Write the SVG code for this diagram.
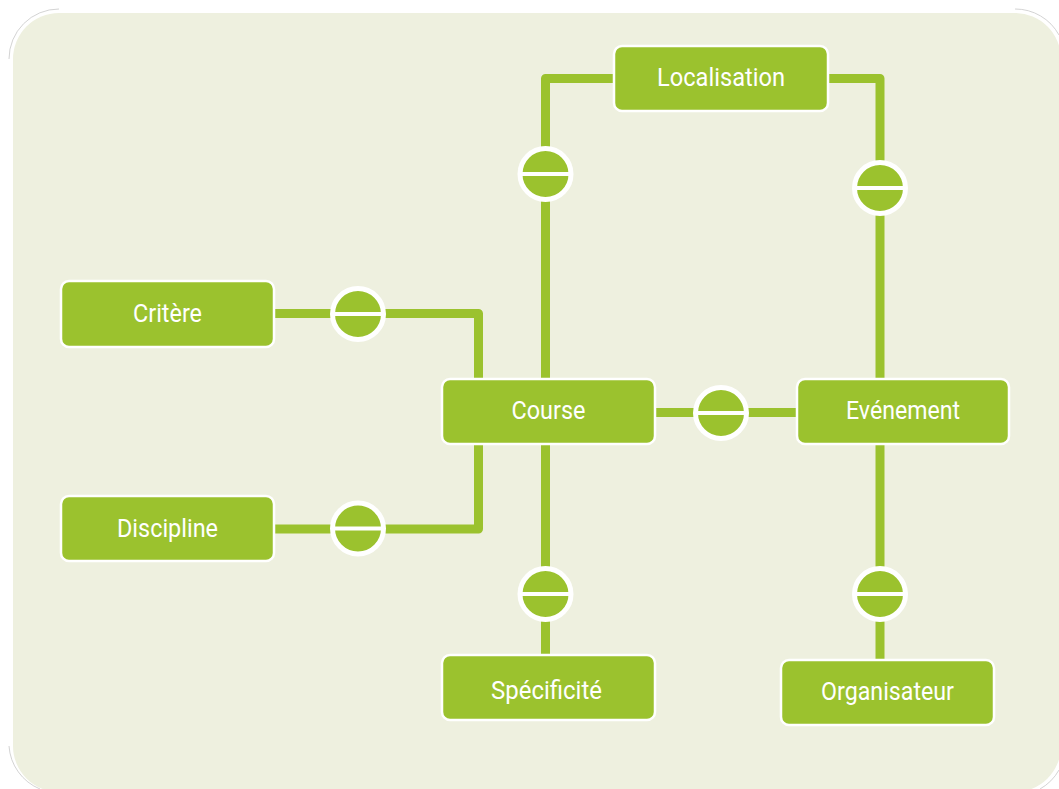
<svg xmlns="http://www.w3.org/2000/svg" width="1059" height="789" viewBox="0 0 1059 789">
<style>
.bg{fill:#EEF0DF}
.edge{fill:none;stroke:#9BC22E;stroke-width:9;stroke-linejoin:round}
.box{fill:#9BC22E;stroke:#FFFFFF;stroke-width:2.5}
.lbl{font-family:Roboto,"Liberation Sans",sans-serif;font-size:26.5px;fill:#FFFFFF;text-anchor:middle}
.card circle{fill:#9BC22E;stroke:#FFFFFF;stroke-width:5}
.card line{stroke:#FFFFFF;stroke-width:4}
.halo{fill:none;stroke:#C8C8C8;stroke-width:0.8}
</style>
<defs>
<g id="card" class="card">
<circle cx="0" cy="0" r="25.5"/>
<line x1="-24" y1="0" x2="24" y2="0"/>
</g>
</defs>
<rect width="1059" height="789" fill="#FFFFFF"/>
<g id="background">
<path class="halo" d="M9,59 A50,50 0 0 1 59,9"/>
<path class="halo" d="M1015,9 A50,50 0 0 1 1059,35"/>
<path class="halo" d="M9,746 A50,50 0 0 0 40,789"/>
<path class="halo" d="M1059,770 A50,50 0 0 1 1040,789"/>
<rect class="bg" x="13" y="13" width="1048" height="779" rx="46" ry="46"/>
</g>
<g id="connectors">
<polyline class="edge" points="274,313.5 478.5,313.5 478.5,380"/>
<polyline class="edge" points="274,529 478.5,529 478.5,444"/>
<polyline class="edge" points="614,78.5 545.5,78.5 545.5,380"/>
<polyline class="edge" points="828,78.5 880,78.5 880,380"/>
<line class="edge" x1="655" y1="412.5" x2="797" y2="412.5"/>
<line class="edge" x1="545.5" y1="444" x2="545.5" y2="655"/>
<line class="edge" x1="880" y1="444" x2="880" y2="660"/>
<use href="#card" x="358" y="314"/>
<use href="#card" x="358" y="528.5"/>
<use href="#card" x="545.5" y="174"/>
<use href="#card" x="880" y="188"/>
<use href="#card" x="721" y="413"/>
<use href="#card" x="545.5" y="594"/>
<use href="#card" x="880" y="594"/>
</g>
<g id="node-localisation">
<rect class="box" x="614" y="46" width="214" height="65" rx="8"/>
<text class="lbl" x="721" y="85.5" textLength="128" lengthAdjust="spacingAndGlyphs">Localisation</text>
</g>
<g id="node-critere">
<rect class="box" x="61" y="281" width="213" height="66" rx="8"/>
<text class="lbl" x="167.5" y="321.5" textLength="69" lengthAdjust="spacingAndGlyphs">Critère</text>
</g>
<g id="node-discipline">
<rect class="box" x="61" y="496" width="213" height="65" rx="8"/>
<text class="lbl" x="167.5" y="536.5" textLength="101" lengthAdjust="spacingAndGlyphs">Discipline</text>
</g>
<g id="node-course">
<rect class="box" x="442" y="379" width="213" height="65" rx="8"/>
<text class="lbl" x="548.5" y="418.5" textLength="74" lengthAdjust="spacingAndGlyphs">Course</text>
</g>
<g id="node-evenement">
<rect class="box" x="797" y="379" width="212" height="65" rx="8"/>
<text class="lbl" x="903" y="418.5" textLength="114" lengthAdjust="spacingAndGlyphs">Evénement</text>
</g>
<g id="node-specificite">
<rect class="box" x="442" y="655" width="213" height="65" rx="8"/>
<text class="lbl" x="546.5" y="698.5" textLength="111" lengthAdjust="spacingAndGlyphs">Spécificité</text>
</g>
<g id="node-organisateur">
<rect class="box" x="781" y="660" width="213" height="65" rx="8"/>
<text class="lbl" x="887.5" y="699.5" textLength="133" lengthAdjust="spacingAndGlyphs">Organisateur</text>
</g>
</svg>
